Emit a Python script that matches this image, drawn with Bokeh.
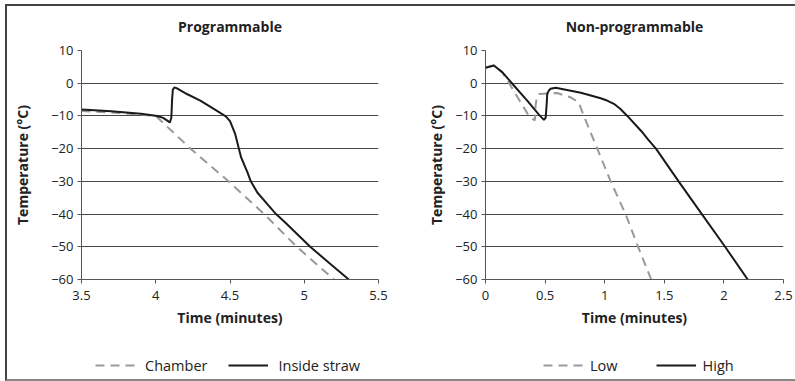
from bokeh.plotting import figure
from bokeh.layouts import row, column
from bokeh.models import FixedTicker, Legend, LegendItem, Range1d, InlineStyleSheet
from bokeh.embed import file_html
from bokeh.resources import INLINE

# ---------------- data ----------------
# Programmable panel
prog_chamber_t = [3.5, 3.75, 4.0, 4.234, 4.49, 4.73, 4.95, 5.2]
prog_chamber_T = [-8.5, -9.1, -10.0, -20.0, -30.0, -40.0, -50.0, -60.0]

prog_straw_t = [3.5, 3.7, 3.9, 4.01, 4.05, 4.08, 4.095, 4.105, 4.11, 4.115, 4.125, 4.14,
                4.21, 4.30, 4.41, 4.45, 4.475, 4.50, 4.535, 4.56, 4.575, 4.594, 4.617, 4.64,
                4.684, 4.75, 4.81, 4.87, 4.95, 5.04, 5.17, 5.30]
prog_straw_T = [-8.0, -8.6, -9.3, -10.0, -10.6, -11.5, -12.0, -10.5, -5.0, -2.0, -1.3, -1.5,
                -3.3, -5.3, -8.4, -9.5, -10.3, -11.6, -15.5, -20.0, -22.7, -24.7, -27.2, -30.0,
                -33.4, -36.9, -40.0, -42.5, -46.0, -50.0, -55.0, -60.0]

# Non-programmable panel
np_low_t = [0.0, 0.07, 0.14, 0.21, 0.294, 0.364, 0.414, 0.42, 0.43, 0.448, 0.60, 0.714,
            0.78, 0.825, 0.938, 1.05, 1.175, 1.28, 1.39]
np_low_T = [4.7, 5.4, 3.4, -0.7, -5.8, -10.0, -11.4, -7.0, -4.3, -3.3, -3.0, -4.3,
            -5.8, -10.0, -20.0, -30.0, -40.0, -50.0, -60.0]

np_high_t = [0.0, 0.07, 0.14, 0.238, 0.35, 0.448, 0.49, 0.505, 0.512, 0.518, 0.532, 0.546,
             0.588, 0.80, 0.966, 1.02, 1.077, 1.13, 1.19, 1.25, 1.316, 1.37, 1.43, 1.62,
             1.815, 2.01, 2.2]
np_high_T = [4.7, 5.4, 3.4, -0.7, -5.3, -9.6, -11.2, -10.5, -7.0, -3.3, -2.2, -1.7,
             -1.4, -2.9, -4.6, -5.3, -6.3, -7.8, -10.0, -12.4, -15.0, -17.5, -20.0, -30.0,
             -40.0, -50.0, -60.0]

y_ticks = [-60, -50, -40, -30, -20, -10, 0, 10]
prog_x_ticks = [3.5, 4.0, 4.5, 5.0, 5.5]
prog_x_labels = ["3.5", "4", "4.5", "5", "5.5"]
np_x_ticks = [0.0, 0.5, 1.0, 1.5, 2.0, 2.5]
np_x_labels = ["0", "0.5", "1", "1.5", "2", "2.5"]

titles = ["Programmable", "Non-programmable"]
legend_names = [["Chamber", "Inside straw"], ["Low", "High"]]

FONT = "Open Sans"
TEXT = "#222222"
GRID = "#4a4a4a"
DASH_COLOR = "#999999"
SOLID_COLOR = "#1a1a1a"
H_MAIN = 340
H_LEG = 41


def make_panel(title, xr, xticks, xlabels, series, width, mbl, mbr, ylab_standoff):
    p = figure(width=width, height=H_MAIN, output_backend="svg", toolbar_location=None,
               x_range=Range1d(*xr), y_range=Range1d(-60, 10),
               min_border_left=mbl, min_border_right=mbr,
               min_border_top=50, min_border_bottom=H_MAIN - 279)
    p.outline_line_color = None
    p.background_fill_color = "white"
    p.border_fill_color = "white"

    p.title.text = title
    p.title.align = "center"
    p.title.text_font = FONT
    p.title.text_font_size = "14px"
    p.title.text_font_style = "bold"
    p.title.text_color = TEXT
    p.title.standoff = 29

    p.xgrid.grid_line_color = None
    p.ygrid.grid_line_color = GRID
    p.ygrid.grid_line_width = 1

    p.yaxis.ticker = FixedTicker(ticks=y_ticks)
    p.xaxis.ticker = FixedTicker(ticks=xticks)
    p.xaxis.major_label_overrides = {t: l for t, l in zip(xticks, xlabels)}

    for ax in (p.xaxis[0], p.yaxis[0]):
        ax.axis_line_color = "#555555"
        ax.major_tick_line_color = "#555555"
        ax.major_tick_in = 0
        ax.major_tick_out = 4
        ax.minor_tick_line_color = None
        ax.major_label_text_font = FONT
        ax.major_label_text_font_size = "13px"
        ax.major_label_text_color = TEXT
        ax.axis_label_text_font = FONT
        ax.axis_label_text_font_size = "14px"
        ax.axis_label_text_font_style = "bold"
        ax.axis_label_text_color = TEXT
        ax.major_label_standoff = 4

    p.xaxis.major_label_standoff = 7
    p.yaxis.axis_label = "Temperature (°C)"
    p.yaxis.axis_label_standoff = ylab_standoff
    p.xaxis.axis_label = "Time (minutes)"
    p.xaxis.axis_label_standoff = 5

    (dt, dT), (st, sT) = series
    p.line(dt, dT, line_color=DASH_COLOR, line_width=2, line_dash="9 6")
    p.line(st, sT, line_color=SOLID_COLOR, line_width=2)
    return p


def make_legend(names, series, width, x0, standoff, spacing):
    # legend-only strip: the series are drawn off-range, only the legend shows
    lf = figure(width=width, height=H_LEG, output_backend="svg", toolbar_location=None,
                x_axis_location=None, y_axis_location=None,
                x_range=Range1d(0, 1), y_range=Range1d(1000, 1001),
                min_border=0)
    lf.outline_line_color = None
    lf.background_fill_color = "white"
    lf.border_fill_color = "white"
    for g in lf.grid:
        g.visible = False
    (dt, dT), (st, sT) = series
    r1 = lf.line(dt, dT, line_color=DASH_COLOR, line_width=2, line_dash="9 6")
    r2 = lf.line(st, sT, line_color=SOLID_COLOR, line_width=2)
    legend = Legend(items=[LegendItem(label=names[0], renderers=[r1]),
                           LegendItem(label=names[1], renderers=[r2])],
                    orientation="horizontal", location=(x0, 6),
                    label_text_font=FONT, label_text_font_size="14.5px",
                    label_text_color=TEXT, glyph_width=40, label_standoff=standoff,
                    spacing=spacing, border_line_color=None, background_fill_alpha=0,
                    margin=0, padding=0)
    lf.add_layout(legend, "center")
    return lf


prog_series = [(prog_chamber_t, prog_chamber_T), (prog_straw_t, prog_straw_T)]
np_series = [(np_low_t, np_low_T), (np_high_t, np_high_T)]

p1 = make_panel(titles[0], (3.5, 5.5), prog_x_ticks, prog_x_labels, prog_series,
                395, 81, 17, 16)
p2 = make_panel(titles[1], (0, 2.5), np_x_ticks, np_x_labels, np_series,
                400, 90, 12, 6)
l1 = make_legend(legend_names[0], prog_series, 395, 95, 10, 21)
l2 = make_legend(legend_names[1], np_series, 400, 148, 7, 38)

frame_css = InlineStyleSheet(css="""
:host::after {
  content: "";
  position: absolute;
  left: 5px; top: 4px; width: 790px; height: 377px;
  box-sizing: border-box;
  border-left: 2px solid #444444;
  border-top: 2px solid #444444;
  border-bottom: 2px solid #888888;
  pointer-events: none;
  z-index: 10;
}
""")

layout = column(row(p1, p2), row(l1, l2), stylesheets=[frame_css])

open("out.html", "w").write(file_html(layout, INLINE))
